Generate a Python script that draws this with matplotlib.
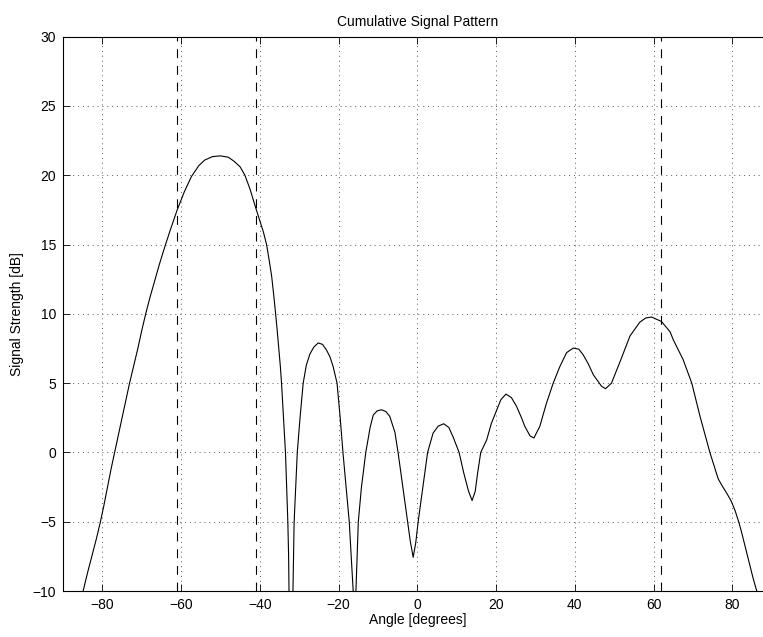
import numpy as np
import matplotlib.pyplot as plt

plt.rcParams['font.family'] = ['Liberation Sans', 'DejaVu Sans']
plt.rcParams['font.size'] = 10

# angle [deg] / signal strength [dB]
angles = [-84.9, -83.7, -82.5, -81.5, -80.5, -79.6, -78.7, -77.8, -76.9, -75.9,
          -75.0, -74.0, -73.1, -72.0, -71.0, -70.0, -69.0, -67.9, -66.7, -65.5,
          -64.3, -62.7, -61.0, -59.2, -57.4, -55.5, -54.0, -52.0, -50.0, -48.0,
          -46.5, -45.0, -43.8, -42.5, -41.0, -40.0, -39.1, -38.3, -37.6, -37.0,
          -36.5, -36.0, -35.6, -35.2, -34.8, -34.5, -34.0, -33.5, -33.2, -32.9,
          -32.7, -32.6, -32.1, -31.6, -31.45, -31.3, -30.9, -30.5, -29.8, -29.0,
          -28.2, -27.3, -26.3, -25.2, -24.1, -23.1, -22.2, -21.4, -20.4, -19.6,
          -18.9, -18.1, -17.3, -16.8, -16.3, -16.0, -15.6, -15.3, -15.0, -14.2,
          -13.1, -12.0, -11.2, -10.2, -9.1, -8.0, -7.0, -5.7, -4.9, -3.7,
          -2.5, -1.8, -1.06, -0.4, 0.2, 1.4, 2.6, 4.0, 5.3, 6.7,
          8.0, 9.1, 10.6, 11.8, 13.0, 13.9, 14.7, 15.3, 16.1, 17.6,
          18.8, 20.0, 21.2, 22.5, 23.9, 25.2, 26.3, 27.3, 28.6, 29.6,
          31.1, 32.8, 34.5, 36.2, 37.9, 39.6, 41.0, 42.1, 43.4, 44.7,
          46.8, 47.8, 49.3, 51.5, 54.0, 56.5, 58.0, 59.5, 62.0, 64.2,
          65.0, 67.5, 69.7, 71.8, 74.3, 76.4, 77.6, 78.6, 79.7, 80.7,
          81.5, 82.3, 83.0, 83.7, 84.5, 85.3, 86.2]
strength = [-10.0, -8.6, -7.3, -6.2, -5.0, -3.8, -2.5, -1.2, 0.0, 1.3,
            2.5, 3.8, 5.0, 6.3, 7.5, 8.8, 10.0, 11.2, 12.4, 13.6,
            14.7, 16.1, 17.5, 18.8, 19.9, 20.7, 21.1, 21.35, 21.4, 21.3,
            21.0, 20.6, 20.0, 19.0, 17.6, 16.7, 15.9, 15.0, 13.8, 12.7,
            11.4, 10.0, 8.8, 7.5, 6.2, 5.0, 2.5, 0.0, -2.5, -5.0,
            -7.5, -10.0, -14.0, -10.0, -7.5, -5.0, -2.5, 0.0, 2.5, 5.0,
            6.3, 7.1, 7.6, 7.9, 7.8, 7.4, 6.9, 6.2, 5.0, 2.5,
            0.0, -2.5, -5.0, -7.5, -10.0, -14.0, -10.0, -7.5, -5.0, -2.5,
            0.0, 1.8, 2.7, 3.0, 3.08, 2.95, 2.6, 1.45, 0.0, -2.5,
            -5.0, -6.4, -7.57, -6.5, -5.0, -2.5, 0.0, 1.4, 1.9, 2.07,
            1.8, 1.1, 0.0, -1.5, -2.8, -3.47, -2.8, -1.5, 0.0, 0.9,
            2.1, 2.96, 3.8, 4.21, 3.95, 3.32, 2.6, 1.88, 1.2, 1.04,
            1.88, 3.56, 5.0, 6.2, 7.2, 7.53, 7.45, 7.05, 6.4, 5.6,
            4.77, 4.6, 5.0, 6.56, 8.4, 9.4, 9.7, 9.77, 9.45, 8.7,
            8.13, 6.7, 5.0, 2.6, 0.0, -1.9, -2.5, -2.95, -3.5, -4.2,
            -4.9, -5.7, -6.5, -7.3, -8.2, -9.1, -10.0]

marker_angles = [-61, -41, 62]
xticks = [-80, -60, -40, -20, 0, 20, 40, 60, 80]
yticks = [-10, -5, 0, 5, 10, 15, 20, 25, 30]

fig = plt.figure(figsize=(7.63, 6.37), dpi=100)
ax = fig.add_axes([0.0826, 0.0722, 0.9288, 0.8702])

ax.plot(angles, strength, color='k', lw=0.8)
for a in marker_angles:
    ax.axvline(a, color='k', lw=0.8, linestyle=(0, (8, 7)))

ax.set_xlim(-90, 90)
ax.set_ylim(-10, 30)
ax.set_xticks(xticks)
ax.set_yticks(yticks)
ax.set_xticklabels([str(t).replace('-', '\u2212') for t in xticks])
ax.set_yticklabels([str(t).replace('-', '\u2212') for t in yticks])
ax.tick_params(direction='in', length=5, width=0.6, top=True, right=True, pad=5)
ax.grid(True, color='0.35', lw=0.7, linestyle=(0, (1, 4)))
for s in ax.spines.values():
    s.set_linewidth(0.8)

ax.set_title('Cumulative Signal Pattern', fontsize=10, pad=8)
ax.set_xlabel('Angle [degrees]', labelpad=1)
ax.set_ylabel('Signal Strength [dB]', labelpad=6)

fig.savefig('out.png', dpi=100)
